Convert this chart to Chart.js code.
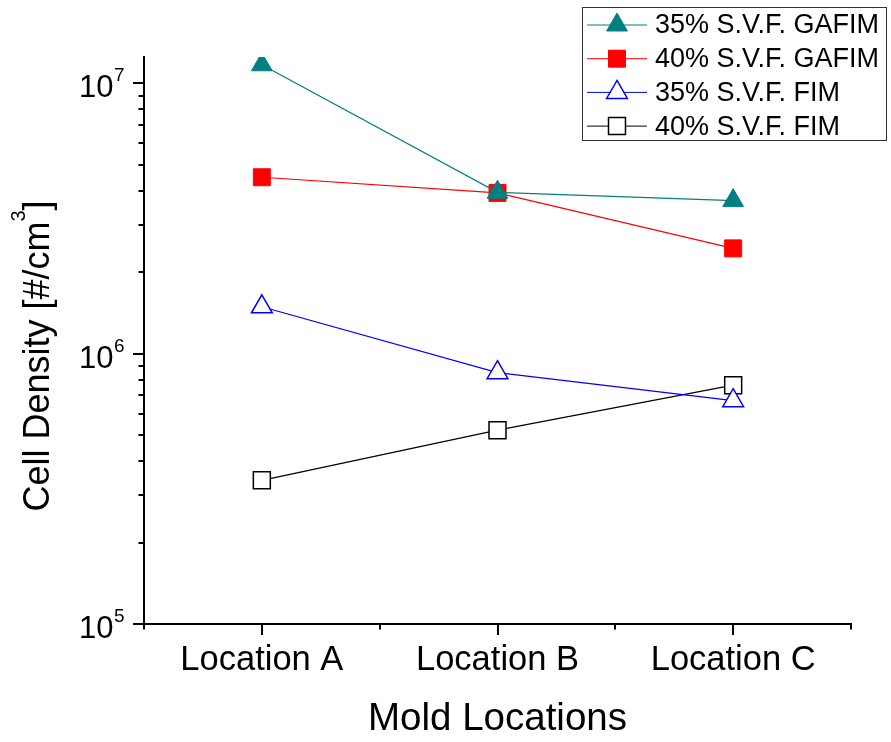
<!DOCTYPE html>
<html>
<head>
<meta charset="utf-8">
<script src="https://cdn.jsdelivr.net/npm/chart.js@4.4.1/dist/chart.umd.min.js"></script>
<style>
  html, body { margin: 0; padding: 0; background: #fff; }
</style>
</head>
<body>
<canvas id="cellDensity" width="891" height="742"></canvas>
<script>
const locations = ['Location A', 'Location B', 'Location C'];
const gafim35 = [1.17e7, 3.95e6, 3.68e6];
const gafim40 = [4.49e6, 3.93e6, 2.45e6];
const fim35 = [1.49e6, 8.50e5, 6.70e5];
const fim40 = [3.40e5, 5.21e5, 7.64e5];
const yDecades = [5, 6, 7];
const yMin = 1e5;
const yMax = 1.25e7;

const FONT = "'Liberation Sans', Arial, sans-serif";

// tick marks, decade labels, y title and boxed legend
const axisDecor = {
    id: 'axisDecor',
    afterDraw(chart) {
        const { ctx, chartArea, scales: { x, y } } = chart;
        ctx.save();
        ctx.strokeStyle = '#000';
        ctx.fillStyle = '#000';
        ctx.lineWidth = 2;

        // y ticks: long at decades, short at 2..9
        yDecades.forEach(e => {
            for (let m = 1; m <= 9; m++) {
                const v = m * Math.pow(10, e);
                if (v < yMin * 0.999 || v > yMax) continue;
                const py = Math.round(y.getPixelForValue(v));
                const len = m === 1 ? 11 : 5.5;
                ctx.beginPath();
                ctx.moveTo(chartArea.left - len, py);
                ctx.lineTo(chartArea.left, py);
                ctx.stroke();
            }
            const py = y.getPixelForValue(Math.pow(10, e));
            ctx.textBaseline = 'alphabetic';
            ctx.font = '31px ' + FONT;
            ctx.textAlign = 'right';
            ctx.fillText('10', 113.5, py + 14);
            ctx.font = '19px ' + FONT;
            ctx.textAlign = 'left';
            ctx.fillText(String(e), 114, py - 2);
        });

        // x ticks: long under categories, short at band edges
        for (let i = 0; i <= locations.length; i++) {
            const edge = Math.round(x.getPixelForValue(i - 0.5));
            ctx.beginPath();
            ctx.moveTo(edge, chartArea.bottom);
            ctx.lineTo(edge, chartArea.bottom + 5.5);
            ctx.stroke();
            if (i < locations.length) {
                const px = Math.round(x.getPixelForValue(i));
                ctx.beginPath();
                ctx.moveTo(px, chartArea.bottom);
                ctx.lineTo(px, chartArea.bottom + 11);
                ctx.stroke();
            }
        }

        // y title with superscript
        ctx.save();
        ctx.translate(36, 356);
        ctx.rotate(-Math.PI / 2);
        ctx.textAlign = 'left';
        ctx.textBaseline = 'alphabetic';
        const main = 'Cell Density [#/cm', sup = '3', tail = ']';
        ctx.font = '36px ' + FONT;
        const w1 = ctx.measureText(main).width;
        const w3 = ctx.measureText(tail).width;
        ctx.font = '20px ' + FONT;
        const w2 = ctx.measureText(sup).width;
        const sx = -(w1 + w2 + w3) / 2;
        ctx.font = '36px ' + FONT;
        ctx.fillText(main, sx, 13);
        ctx.font = '20px ' + FONT;
        ctx.fillText(sup, sx + w1, -11);
        ctx.font = '36px ' + FONT;
        ctx.fillText(tail, sx + w1 + w2, 13);
        ctx.restore();

        // legend box
        ctx.lineWidth = 1;
        ctx.strokeStyle = '#333';
        ctx.strokeRect(582.5, 7.5, 304, 133);
        chart.data.datasets.forEach((ds, i) => {
            const cy = 25 + i * 33.7;
            ctx.strokeStyle = ds.borderColor;
            ctx.lineWidth = 1;
            ctx.beginPath();
            ctx.moveTo(587, cy);
            ctx.lineTo(647, cy);
            ctx.stroke();
            ctx.fillStyle = ds.pointBackgroundColor;
            ctx.strokeStyle = ds.pointBorderColor;
            ctx.lineWidth = ds.pointBorderWidth;
            Chart.helpers.drawPoint(ctx, {
                pointStyle: ds.pointStyle,
                radius: ds.pointRadius,
                borderWidth: ds.pointBorderWidth,
                rotation: 0
            }, 617, cy);
            ctx.fillStyle = '#000';
            ctx.font = '27px ' + FONT;
            ctx.textAlign = 'left';
            ctx.textBaseline = 'middle';
            ctx.fillText(ds.label, 655, cy + 1);
        });
        ctx.restore();
    }
};

function series(label, data, color, style, filled) {
    return {
        label: label,
        data: data,
        borderColor: color,
        backgroundColor: color,
        borderWidth: 1.2,
        pointStyle: style,
        pointRadius: 12,
        pointHoverRadius: 12,
        pointBackgroundColor: filled ? color : '#fff',
        pointBorderColor: color,
        pointBorderWidth: filled ? 1 : 1.5,
        tension: 0,
        clip: 0
    };
}

const cellDensityChart = new Chart(document.getElementById('cellDensity'), {
    type: 'line',
    data: {
        labels: locations,
        datasets: [
            series('35% S.V.F. GAFIM', gafim35, '#008080', 'triangle', true),
            series('40% S.V.F. GAFIM', gafim40, '#ff0000', 'rect', true),
            series('35% S.V.F. FIM', fim35, '#0000ff', 'triangle', false),
            series('40% S.V.F. FIM', fim40, '#000000', 'rect', false)
        ]
    },
    options: {
        responsive: false,
        animation: false,
        devicePixelRatio: 1,
        layout: { padding: { top: 57, right: 40, left: 0, bottom: 0 } },
        plugins: { legend: { display: false }, tooltip: { enabled: false } },
        scales: {
            x: {
                type: 'category',
                offset: true,
                grid: { display: false, drawTicks: false },
                border: { display: true, color: '#000', width: 2 },
                ticks: {
                    color: '#000',
                    padding: 16,
                    maxRotation: 0,
                    autoSkip: false,
                    font: { family: FONT, size: 34.5 }
                },
                title: {
                    display: true,
                    text: 'Mold Locations',
                    color: '#000',
                    padding: { top: 0, bottom: 0 },
                    font: { family: FONT, size: 38.5 }
                },
                afterFit(scale) { scale.height = 118; }
            },
            y: {
                type: 'logarithmic',
                min: yMin,
                max: yMax,
                grid: { display: false, drawTicks: false },
                border: { display: true, color: '#000', width: 2 },
                ticks: { display: false },
                afterFit(scale) { scale.width = 144; }
            }
        }
    },
    plugins: [axisDecor]
});
</script>
</body>
</html>
